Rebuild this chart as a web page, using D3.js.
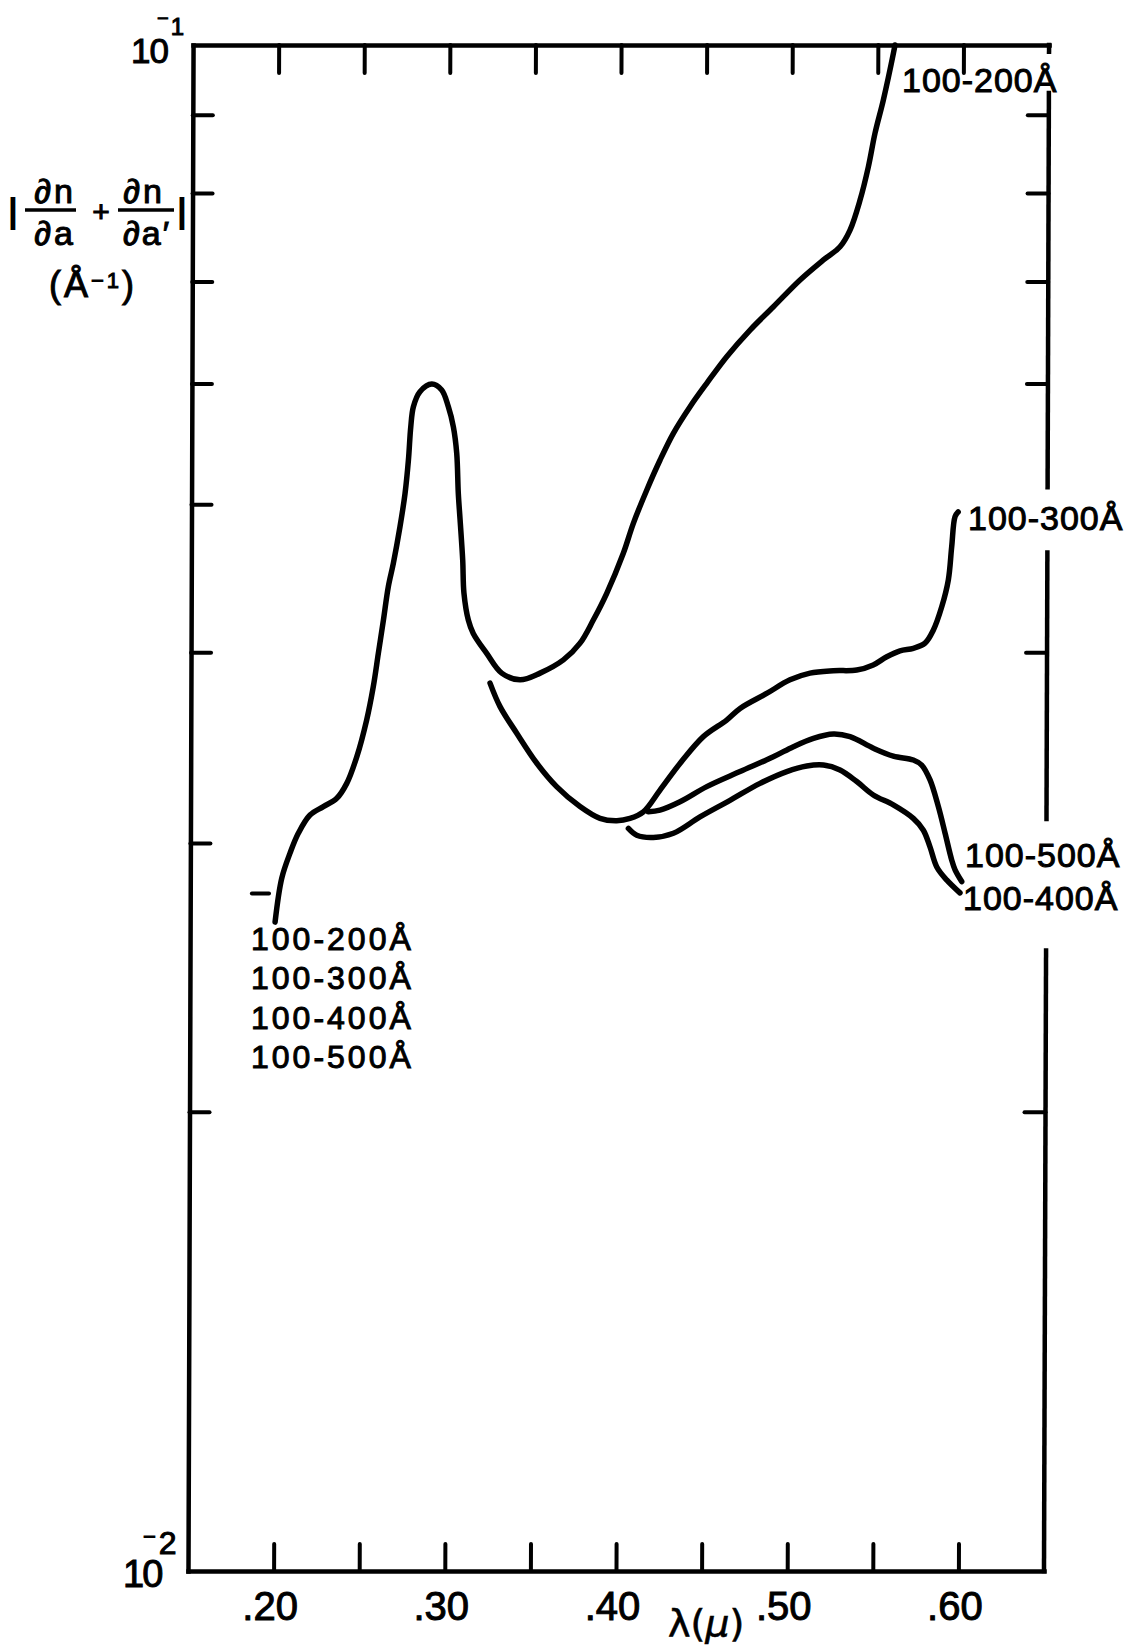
<!DOCTYPE html>
<html>
<head>
<meta charset="utf-8">
<script src="https://cdn.jsdelivr.net/npm/d3@7"></script>
<style>
  html, body { margin: 0; padding: 0; background: #ffffff; }
  svg { display: block; }
  text { fill: #000; }
</style>
</head>
<body>
<svg id="chart" width="1132" height="1648"></svg>
<script>
// |dn/da + dn/da'| (1/Å) versus wavelength λ (μ), log scale.
// Each series is a list of [λ, value] pairs.

// Common branch (all ranges) rising to the peak near .29 μ, then the 100-200 Å curve
const curve100_200 = [
  [0.1996,0.02662],[0.2034,0.02844],[0.2082,0.02954],[0.2130,0.03044],[0.2198,0.03129],
  [0.2276,0.03169],[0.2354,0.03209],[0.2412,0.03282],[0.2470,0.03416],[0.2527,0.03611],
  [0.2565,0.03797],[0.2594,0.03993],[0.2623,0.04199],[0.2651,0.04416],[0.2680,0.04575],
  [0.2718,0.04834],[0.2747,0.05084],[0.2766,0.05346],[0.2779,0.05620],[0.2794,0.05794],
  [0.2832,0.05927],[0.2901,0.05996],[0.2959,0.05942],[0.2998,0.05794],[0.3028,0.05620],
  [0.3048,0.05401],[0.3058,0.05084],[0.3069,0.04884],[0.3085,0.04597],[0.3093,0.04372],
  [0.3119,0.04199],[0.3148,0.04115],[0.3227,0.03993],[0.3315,0.03876],[0.3422,0.03837],
  [0.3539,0.03876],[0.3675,0.03954],[0.3772,0.04055],[0.3849,0.04199],[0.3927,0.04372],
  [0.4023,0.04644],[0.4081,0.04859],[0.4159,0.05110],[0.4236,0.05346],[0.4313,0.05566],
  [0.4410,0.05794],[0.4507,0.06002],[0.4623,0.06248],[0.4759,0.06504],[0.4895,0.06737],
  [0.5050,0.07015],[0.5186,0.07230],[0.5283,0.07376],[0.5341,0.07564],[0.5399,0.07914],
  [0.5447,0.08322],[0.5485,0.08753],[0.5533,0.09203],[0.5591,0.09876],[0.5600,0.10000]
];

// 100-300 Å curve
const curve100_300 = [
  [0.3247,0.03818],[0.3306,0.03685],[0.3404,0.03540],[0.3522,0.03383],[0.3638,0.03266],
  [0.3775,0.03169],[0.3892,0.03113],[0.3990,0.03102],[0.4067,0.03113],[0.4145,0.03144],
  [0.4242,0.03249],[0.4359,0.03383],[0.4494,0.03522],[0.4630,0.03611],[0.4708,0.03675],
  [0.4863,0.03759],[0.4999,0.03837],[0.5116,0.03876],[0.5252,0.03890],[0.5389,0.03894],
  [0.5485,0.03924],[0.5564,0.03973],[0.5641,0.04009],[0.5719,0.04024],[0.5787,0.04055],
  [0.5835,0.04135],[0.5884,0.04284],[0.5922,0.04461],[0.5941,0.04690],[0.5960,0.04908],
  [0.5978,0.04943]
];

// 100-500 Å curve
const curve100_500 = [
  [0.4174,0.03144],[0.4242,0.03152],[0.4359,0.03192],[0.4515,0.03266],[0.4709,0.03341],
  [0.4903,0.03416],[0.5020,0.03469],[0.5137,0.03513],[0.5254,0.03536],[0.5351,0.03522],
  [0.5487,0.03461],[0.5604,0.03420],[0.5721,0.03400],[0.5770,0.03374],[0.5819,0.03299],
  [0.5868,0.03169],[0.5908,0.03044],[0.5947,0.02924],[0.5967,0.02880],[0.6006,0.02830]
];

// 100-400 Å curve
const curve100_400 = [
  [0.4058,0.03066],[0.4107,0.03035],[0.4204,0.03025],[0.4321,0.03044],[0.4476,0.03120],
  [0.4651,0.03199],[0.4826,0.03282],[0.4982,0.03341],[0.5099,0.03369],[0.5196,0.03374],
  [0.5293,0.03349],[0.5391,0.03291],[0.5488,0.03225],[0.5605,0.03177],[0.5722,0.03113],
  [0.5781,0.03058],[0.5820,0.02982],[0.5860,0.02893],[0.5918,0.02837],[0.5996,0.02782]
];

// Axis ticks and labels
const xTickValues = [0.20, 0.25, 0.30, 0.35, 0.40, 0.45, 0.50, 0.55, 0.60];
const xLabelValues = [0.20, 0.30, 0.40, 0.50, 0.60];
const xLabelText = [".20", ".30", ".40", ".50", ".60"];
const yTickValues = [0.09, 0.08, 0.07, 0.06, 0.05, 0.04, 0.03, 0.02];
const yTickValuesRight = [0.09, 0.08, 0.07, 0.06, 0.04, 0.02];
// Right frame edge is drawn in pieces, interrupted where curve labels sit
const rightEdgeSpans = [[0.1, 0.0990], [0.0930, 0.0513], [0.0465, 0.0311], [0.0255, 0.01]];

// Curve labels
const curveLabelTop = "100-200Å";
const curveLabelsRight = ["100-300Å", "100-500Å", "100-400Å"];
const curveLabelsShared = ["100-200Å", "100-300Å", "100-400Å", "100-500Å"];

const FONT = "'Liberation Sans', 'DejaVu Sans', Arial, sans-serif";

const svg = d3.select("#chart");
svg.append("rect").attr("width", 1132).attr("height", 1648).attr("fill", "#fff");

const x = d3.scaleLinear().domain([0.15, 0.65]).range([188, 1044]);
const y = d3.scaleLog().domain([0.01, 0.1]).range([1571, 45]);

// plot area, leaning very slightly to the right toward the top
const y0 = y(0.01);
const plot = svg.append("g")
  .attr("transform", `translate(0,${y0}) skewX(-0.19) translate(0,${-y0})`);

const ink = "#000";

// axes (ticks point inward)
const bottomAxis = plot.append("g").attr("transform", `translate(0,${y(0.01)})`)
  .call(d3.axisBottom(x).tickValues(xTickValues).tickSizeInner(-27).tickSizeOuter(0).tickFormat(""));
const topAxis = plot.append("g").attr("transform", `translate(0,${y(0.1)})`)
  .call(d3.axisTop(x).tickValues(xTickValues).tickSizeInner(-28).tickSizeOuter(0).tickFormat(""));
const leftAxis = plot.append("g").attr("transform", `translate(${x(0.15)},0)`)
  .call(d3.axisLeft(y).tickValues(yTickValues).tickSizeInner(-20).tickSizeOuter(0).tickFormat(""));
const rightAxis = plot.append("g").attr("transform", `translate(${x(0.65)},0)`)
  .call(d3.axisRight(y).tickValues(yTickValuesRight).tickSizeInner(-21).tickSizeOuter(0).tickFormat(""));
rightAxis.select(".domain").remove();

[bottomAxis, topAxis, leftAxis, rightAxis].forEach(g => {
  g.selectAll(".domain").attr("stroke", ink).attr("stroke-width", 4.5).attr("stroke-linecap", "square");
  g.selectAll(".tick line").attr("stroke", ink).attr("stroke-width", 4).attr("stroke-linecap", "round");
});

// broken right edge
plot.append("g").selectAll("line").data(rightEdgeSpans).join("line")
  .attr("x1", x(0.65)).attr("x2", x(0.65))
  .attr("y1", d => y(d[0])).attr("y2", d => y(d[1]))
  .attr("stroke", ink).attr("stroke-width", 4.5).attr("stroke-linecap", "square");

// small dash by the start of the curves
plot.append("line")
  .attr("x1", x(0.186)).attr("x2", x(0.196))
  .attr("y1", y(0.0278)).attr("y2", y(0.0278))
  .attr("stroke", ink).attr("stroke-width", 4).attr("stroke-linecap", "round");

// curves
const line = d3.line()
  .x(d => x(d[0]))
  .y(d => y(d[1]))
  .curve(d3.curveCatmullRom.alpha(0.5));

plot.append("g").selectAll("path")
  .data([curve100_200, curve100_300, curve100_500, curve100_400])
  .join("path")
  .attr("d", line)
  .attr("fill", "none")
  .attr("stroke", ink)
  .attr("stroke-width", 5.5)
  .attr("stroke-linecap", "round")
  .attr("stroke-linejoin", "round");

// x tick labels
const xLabels = svg.append("g")
  .attr("transform", `translate(0,${y(0.01)})`)
  .call(d3.axisBottom(x).tickValues(xLabelValues).tickSize(0).tickPadding(21)
    .tickFormat((d, i) => xLabelText[i]));
xLabels.select(".domain").remove();
xLabels.selectAll("text")
  .attr("x", -4)
  .attr("font-family", FONT).attr("font-size", 40)
  .attr("fill", ink).attr("stroke", ink).attr("stroke-width", 1);

// x axis title λ(μ)
const xTitle = svg.append("text")
  .attr("x", 668).attr("y", 1636)
  .attr("font-family", "'DejaVu Sans', sans-serif").attr("font-size", 38)
  .attr("stroke", ink).attr("stroke-width", 0.6);
xTitle.append("tspan").text("λ(");
xTitle.append("tspan").attr("font-style", "italic").text("μ");
xTitle.append("tspan").text(")");

// y-axis end labels 10^-1 and 10^-2
const pow = svg.append("g").attr("font-family", FONT).attr("stroke", ink).attr("stroke-width", 1);
pow.append("text").attr("x", 131).attr("y", 63).attr("font-size", 35).attr("letter-spacing", -1).text("10");
const sup1 = pow.append("text").attr("x", 157).attr("y", 35).attr("font-size", 24);
sup1.append("tspan").attr("font-size", 20).attr("dy", -10).text("−");
sup1.append("tspan").attr("dy", 10).attr("dx", 2).text("1");

pow.append("text").attr("x", 123).attr("y", 1587).attr("font-size", 38).attr("letter-spacing", -2).text("10");
const sup2 = pow.append("text").attr("x", 143).attr("y", 1554).attr("font-size", 32);
sup2.append("tspan").attr("font-size", 22).attr("dy", -10).text("−");
sup2.append("tspan").attr("dy", 10).attr("dx", 3).text("2");

// y axis title: |∂n/∂a + ∂n/∂a'|  (Å^-1)
const yt = svg.append("g").attr("font-family", FONT).attr("stroke", ink).attr("stroke-width", 1);
yt.append("text").attr("x", 13).attr("y", 222).attr("text-anchor", "middle").attr("font-size", 34)
  .attr("stroke-width", 2).text("|");
yt.append("text").attr("x", 182).attr("y", 222).attr("text-anchor", "middle").attr("font-size", 34)
  .attr("stroke-width", 2).text("|");
yt.append("text").attr("x", 55).attr("y", 203).attr("text-anchor", "middle").attr("font-size", 34)
  .attr("letter-spacing", 3).text("∂n");
yt.append("text").attr("x", 55).attr("y", 245).attr("text-anchor", "middle").attr("font-size", 34)
  .attr("letter-spacing", 3).text("∂a");
yt.append("text").attr("x", 101).attr("y", 222).attr("text-anchor", "middle").attr("font-size", 30).text("+");
yt.append("text").attr("x", 144).attr("y", 203).attr("text-anchor", "middle").attr("font-size", 34)
  .attr("letter-spacing", 3).text("∂n");
yt.append("text").attr("x", 147).attr("y", 245).attr("text-anchor", "middle").attr("font-size", 34)
  .attr("letter-spacing", 2).text("∂a′");
yt.append("line").attr("x1", 25).attr("x2", 76).attr("y1", 210).attr("y2", 210)
  .attr("stroke", ink).attr("stroke-width", 3.5);
yt.append("line").attr("x1", 118).attr("x2", 174).attr("y1", 210).attr("y2", 210)
  .attr("stroke", ink).attr("stroke-width", 3.5);
const unit = yt.append("text").attr("x", 49).attr("y", 297).attr("font-size", 36).attr("letter-spacing", 3);
unit.append("tspan").text("(Å");
unit.append("tspan").attr("font-size", 22).attr("dy", -9).text("−1");
unit.append("tspan").attr("dy", 9).text(")");

// curve labels
const lab = svg.append("g").attr("font-family", FONT).attr("fill", ink)
  .attr("stroke", ink).attr("stroke-width", 1);
lab.append("text").attr("x", 902).attr("y", 92).attr("font-size", 34).attr("letter-spacing", 1)
  .text(curveLabelTop);
const rightLabelPos = [[968, 530], [965, 867], [963, 910]];
lab.selectAll("text.rl").data(curveLabelsRight).join("text").attr("class", "rl")
  .attr("x", (d, i) => rightLabelPos[i][0]).attr("y", (d, i) => rightLabelPos[i][1])
  .attr("font-size", 34).attr("letter-spacing", 1).text(d => d);
lab.selectAll("text.sl").data(curveLabelsShared).join("text").attr("class", "sl")
  .attr("x", 251).attr("y", (d, i) => 950 + i * 39.3)
  .attr("font-size", 32).attr("letter-spacing", 3).text(d => d);
</script>
</body>
</html>
